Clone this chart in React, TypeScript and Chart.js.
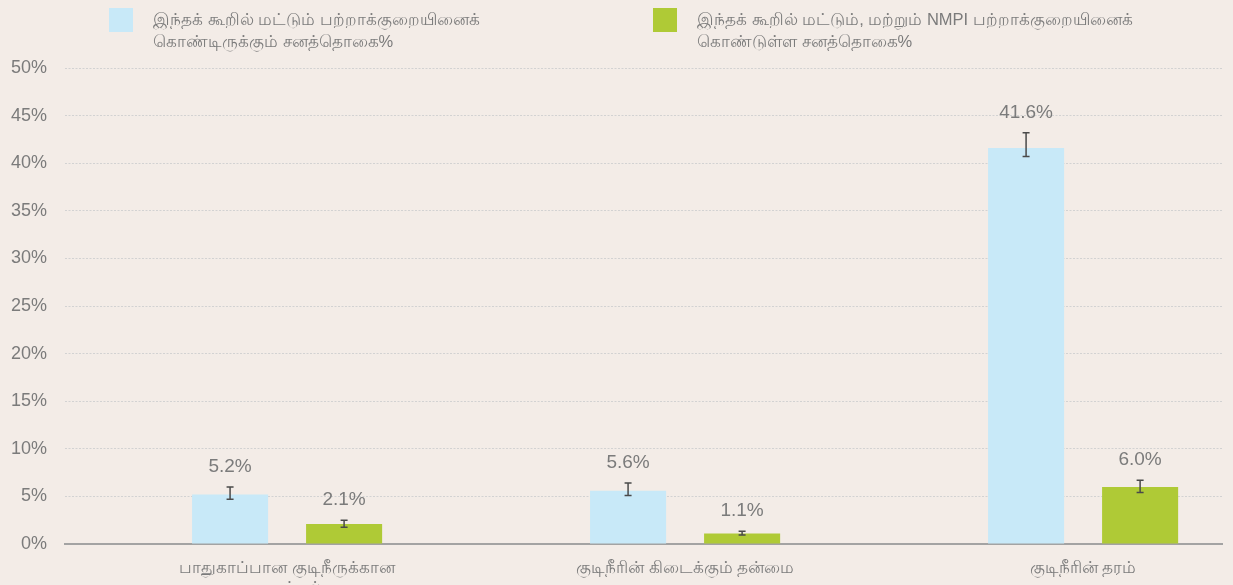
import React, { useEffect, useRef } from "react";
import { Chart, registerables } from "chart.js";
Chart.register(...registerables);

// ---- data ----
const categories: (string | string[])[] = [
  ["பாதுகாப்பான குடிநீருக்கான", "வழங்கல்"],
  "குடிநீரின் கிடைக்கும் தன்மை",
  "குடிநீரின் தரம்",
];
const seriesOneName = ["இந்தக் கூறில் மட்டும் பற்றாக்குறையினைக்", "கொண்டிருக்கும் சனத்தொகை%"];
const seriesTwoName = ["இந்தக் கூறில் மட்டும், மற்றும் NMPI பற்றாக்குறையினைக்", "கொண்டுள்ள சனத்தொகை%"];

const onlyThis = [5.2, 5.6, 41.6];
const onlyThisLow = [4.7, 5.1, 40.7];
const onlyThisHigh = [6.0, 6.4, 43.2];

const thisAndNmpi = [2.1, 1.1, 6.0];
const thisAndNmpiLow = [1.75, 0.95, 5.4];
const thisAndNmpiHigh = [2.5, 1.35, 6.7];

const yTickStep = 5;
const yMax = 50;

const BLUE = "#c8e9f8";
const GREEN = "#afca36";
const BG = "#f3ece7";
const TEXT = "#7b7b7b";
const FONT = "'Liberation Sans', Arial, sans-serif";

const lows = [onlyThisLow, thisAndNmpiLow];
const highs = [onlyThisHigh, thisAndNmpiHigh];
const values = [onlyThis, thisAndNmpi];

const errorBarPlugin = {
  id: "errorBars",
  afterDatasetsDraw(chart: any) {
    const ctx = chart.ctx;
    const y = chart.scales.y;
    ctx.save();
    for (let d = 0; d < chart.data.datasets.length; d++) {
      const meta = chart.getDatasetMeta(d);
      meta.data.forEach((bar: any, i: number) => {
        const x = bar.x;
        const yl = y.getPixelForValue(lows[d][i]);
        const yh = y.getPixelForValue(highs[d][i]);
        ctx.strokeStyle = "#4a4a4a";
        ctx.lineWidth = 1.5;
        ctx.beginPath();
        ctx.moveTo(x, yl);
        ctx.lineTo(x, yh);
        ctx.moveTo(x - 3.5, yl);
        ctx.lineTo(x + 3.5, yl);
        ctx.moveTo(x - 3.5, yh);
        ctx.lineTo(x + 3.5, yh);
        ctx.stroke();
        ctx.fillStyle = TEXT;
        ctx.font = `19px ${FONT}`;
        ctx.textAlign = "center";
        ctx.textBaseline = "middle";
        ctx.fillText(values[d][i].toFixed(1) + "%", x, yh - 20);
      });
    }
    ctx.restore();
  },
};

export default function App() {
  const ref = useRef<HTMLCanvasElement>(null);
  useEffect(() => {
    document.body.style.margin = "0";
    document.body.style.background = BG;
    const chart = new Chart(ref.current!, {
      type: "bar",
      data: {
        datasets: [
          {
            label: seriesOneName.join(" "),
            data: onlyThis.map((v, i) => ({ x: i, y: v })),
            backgroundColor: BLUE,
          },
          {
            label: seriesTwoName.join(" "),
            data: thisAndNmpi.map((v, i) => ({ x: i, y: v })),
            backgroundColor: GREEN,
          },
        ],
      },
      options: {
        animation: false,
        responsive: false,
        maintainAspectRatio: false,
        categoryPercentage: 0.573,
        barPercentage: 0.667,
        layout: { padding: { top: 68, right: 11, left: 0, bottom: 0 } },
        plugins: { legend: { display: false }, tooltip: { enabled: false } },
        scales: {
          x: {
            type: "linear",
            offset: false,
            min: -0.558,
            max: 2.349,
            grid: { display: false, drawTicks: false, offset: false },
            border: { display: true, color: "#a3a3a3", width: 2 },
            ticks: {
              stepSize: 1,
              autoSkip: false,
              maxRotation: 0,
              padding: 15,
              color: TEXT,
              font: { family: FONT, size: 16.5, lineHeight: 1.2 },
              callback: (v: any) => {
                const i = Math.round(v);
                return Math.abs(v - i) < 1e-6 && i >= 0 && i < categories.length
                  ? (categories[i] as any)
                  : "";
              },
            },
            afterBuildTicks: (s: any) => {
              s.ticks = s.ticks.filter((t: any) => Math.abs(t.value - Math.round(t.value)) < 1e-6);
            },
            afterFit: (s: any) => {
              s.height = 41;
            },
          },
          y: {
            min: 0,
            max: yMax,
            ticks: {
              stepSize: yTickStep,
              padding: 18,
              color: TEXT,
              font: { family: FONT, size: 18 },
              callback: (v: any) => v + "%",
            },
            grid: { color: "#d2d2d2", lineWidth: 1, drawTicks: false },
            border: { display: false, dash: [2, 1.5] },
            afterFit: (s: any) => {
              s.width = 65;
            },
          },
        },
      },
      plugins: [errorBarPlugin],
    });
    return () => chart.destroy();
  }, []);

  const legendText: React.CSSProperties = {
    position: "absolute",
    top: 8,
    fontFamily: FONT,
    fontSize: 16.5,
    lineHeight: "22px",
    color: TEXT,
    whiteSpace: "nowrap",
  };
  return (
    <div style={{ position: "absolute", left: 0, top: 0, width: 1233, height: 585, background: BG, overflow: "hidden" }}>
      <canvas ref={ref} width={1233} height={585} style={{ position: "absolute", left: 0, top: 0 }} />
      <div style={{ position: "absolute", left: 109, top: 8, width: 24, height: 24, background: BLUE }} />
      <div style={{ ...legendText, left: 153 }}>
        {seriesOneName.map((l, i) => (
          <div key={i}>{l}</div>
        ))}
      </div>
      <div style={{ position: "absolute", left: 653, top: 8, width: 24, height: 24, background: GREEN }} />
      <div style={{ ...legendText, left: 697 }}>
        {seriesTwoName.map((l, i) => (
          <div key={i}>{l}</div>
        ))}
      </div>
    </div>
  );
}
